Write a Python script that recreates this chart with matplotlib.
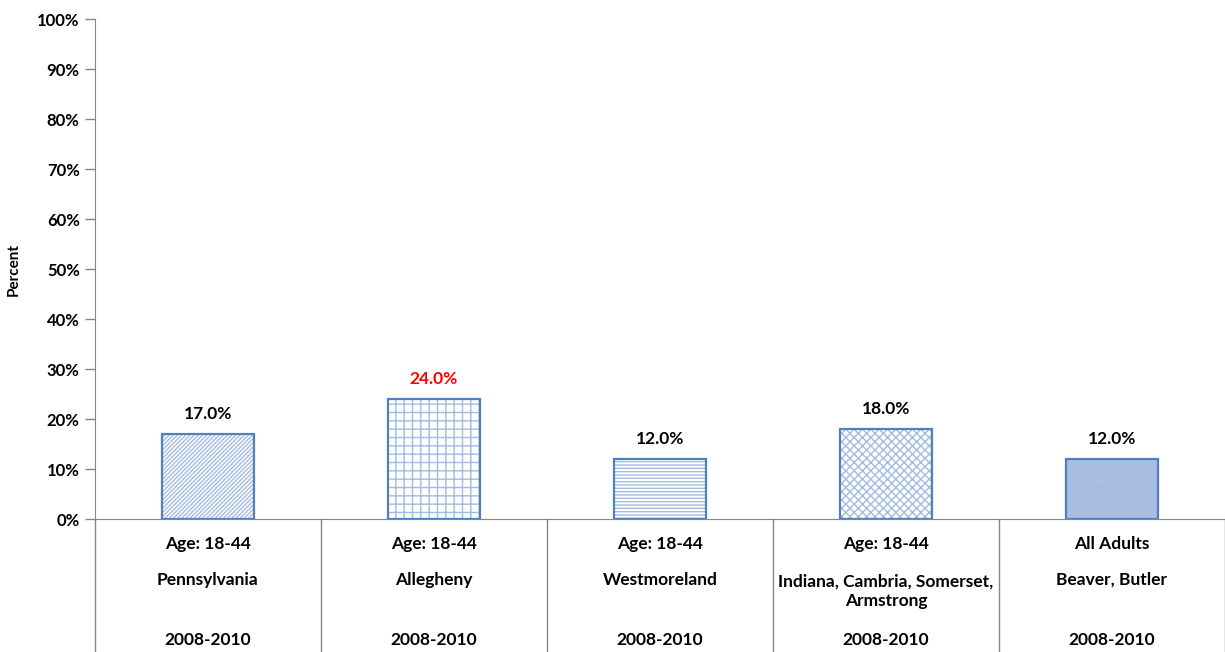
import numpy as np
import matplotlib
matplotlib.use("Agg")
from matplotlib import pyplot as plt

#---------------------------------------------------------------------------
ages = ["Age: 18-44", "Age: 18-44", "Age: 18-44", "Age: 18-44", "All Adults"]
regions = ["Pennsylvania", "Allegheny", "Westmoreland",
           "Indiana, Cambria, Somerset,\nArmstrong", "Beaver, Butler"]
years = ["2008-2010", "2008-2010", "2008-2010", "2008-2010", "2008-2010"]
values = [17.0, 24.0, 12.0, 18.0, 12.0]
label_colors = ["black", "#FF0000", "black", "black", "black"]

hatches = ["////////", "++", "-----", "xxxx", "...."]
faces = ["white", "white", "white", "white", "#A9C0E2"]

plt.rcParams['font.family'] = ['Lato', 'DejaVu Sans']
plt.rcParams['font.weight'] = 'bold'
plt.rcParams['hatch.linewidth'] = 1.0

fig = plt.figure(figsize=(12.25, 6.52), dpi=100)
ax = fig.add_axes([95/1225, 133/652, 1130/1225, 500/652])

x = np.arange(len(values))
# hatch layer in light blue, outline in darker blue on top
ax.bar(x, values, width=0.41, color=faces, edgecolor="#A3BCE0",
       hatch=hatches, linewidth=0, zorder=2)
ax.bar(x, values, width=0.41, fill=False, edgecolor="#4F81BD",
       linewidth=1.6, zorder=3)

for xi, v, c in zip(x, values, label_colors):
    ax.text(xi, v + 2.4, "{:.1f}%".format(v), ha="center", va="bottom",
            fontsize=12.5, fontweight="bold", color=c)

ax.set_xlim(-0.5, len(values) - 0.5)
ax.set_ylim(0, 100)
ax.set_yticks(np.arange(0, 101, 10))
ax.set_yticklabels(["{}%".format(t) for t in range(0, 101, 10)],
                   fontsize=12, fontweight="bold")
ax.tick_params(axis="y", length=7, color="#868686", width=1, pad=4)
ax.set_xticks([])
for s in ["top", "right"]:
    ax.spines[s].set_visible(False)
ax.spines["left"].set_color("#868686")
ax.spines["bottom"].set_color("#868686")
ax.set_ylabel("Percent", fontsize=11, fontweight="bold", labelpad=12)

# category table below the axis
for b in np.arange(-0.5, len(values), 1.0):
    ax.plot([b, b], [0, -27], color="#868686", lw=1, clip_on=False)
for xi, a, r, yr in zip(x, ages, regions, years):
    ax.text(xi, -5, a, ha="center", va="center", fontsize=12.5,
            fontweight="bold")
    if "\n" in r:
        ax.text(xi, -14.5, r, ha="center", va="center", fontsize=12.5,
                fontweight="bold", linespacing=1.3)
    else:
        ax.text(xi, -12.2, r, ha="center", va="center", fontsize=12.5,
                fontweight="bold")
    ax.text(xi, -24.2, yr, ha="center", va="center", fontsize=12.5,
            fontweight="bold")

fig.savefig("out.png", dpi=100)
